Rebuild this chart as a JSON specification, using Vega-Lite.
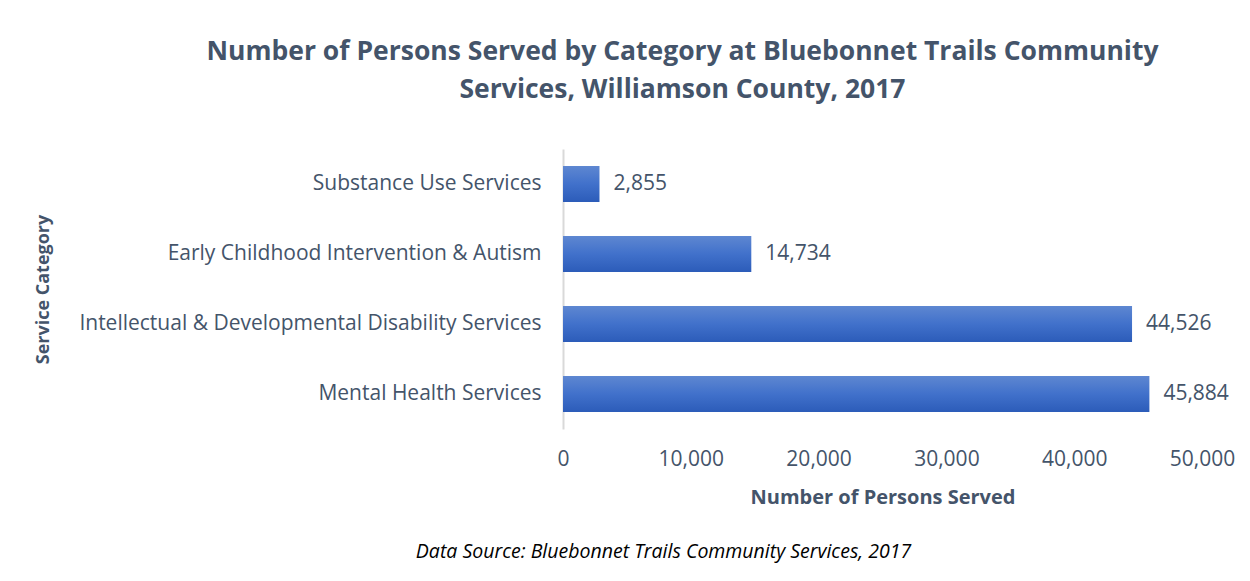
{
  "$schema": "https://vega.github.io/schema/vega-lite/v6.json",
  "autosize": {"type": "none"},
  "width": 639,
  "height": 280,
  "padding": {"left": 563, "top": 149, "right": 48, "bottom": 152},
  "background": "white",
  "config": {
    "font": "Open Sans",
    "view": {"stroke": null}
  },
  "title": {
    "text": ["Number of Persons Served by Category at Bluebonnet Trails Community", "Services, Williamson County, 2017"],
    "anchor": "middle",
    "frame": "group",
    "dx": -200,
    "offset": 46,
    "fontSize": 26.5,
    "lineHeight": 38,
    "fontWeight": "bold",
    "color": "#44546A",
    "font": "Open Sans"
  },
  "data": {
    "values": [
      {"category": "Substance Use Services", "persons": 2855},
      {"category": "Early Childhood Intervention & Autism", "persons": 14734},
      {"category": "Intellectual & Developmental Disability Services", "persons": 44526},
      {"category": "Mental Health Services", "persons": 45884}
    ]
  },
  "encoding": {
    "y": {
      "field": "category",
      "type": "nominal",
      "sort": null,
      "scale": {"paddingInner": 0.486, "paddingOuter": 0.243},
      "axis": {
        "title": "Service Category",
        "titleFontSize": 18,
        "titleFontWeight": "bold",
        "titleColor": "#44546A",
        "titleX": -520,
        "titleBaseline": "middle",
        "labelFontSize": 21,
        "labelColor": "#44546A",
        "labelPadding": 22,
        "labelLimit": 700,
        "ticks": false,
        "domain": true,
        "domainColor": "#D9D9D9",
        "domainWidth": 2,
        "grid": false
      }
    }
  },
  "layer": [
    {
      "mark": {
        "type": "bar",
        "color": {
          "gradient": "linear",
          "x1": 0, "y1": 0, "x2": 0, "y2": 1,
          "stops": [
            {"offset": 0, "color": "#5E87D1"},
            {"offset": 0.5, "color": "#4171CB"},
            {"offset": 1, "color": "#2C5CB9"}
          ]
        }
      },
      "encoding": {
        "x": {
          "field": "persons",
          "type": "quantitative",
          "scale": {"domain": [0, 50000], "nice": false},
          "axis": {
            "orient": "bottom",
            "title": "Number of Persons Served",
            "titleFontSize": 20,
            "titleFontWeight": "bold",
            "titleColor": "#44546A",
            "titleY": 68,
            "titleBaseline": "middle",
            "values": [0, 10000, 20000, 30000, 40000, 50000],
            "format": ",.0f",
            "labelFontSize": 21,
            "labelColor": "#44546A",
            "labelPadding": 19,
            "labelFlush": false,
            "ticks": false,
            "domain": false,
            "grid": false
          }
        }
      }
    },
    {
      "mark": {"type": "text", "align": "left", "baseline": "middle", "dx": 14, "fontSize": 21, "color": "#44546A"},
      "encoding": {
        "x": {
          "field": "persons",
          "type": "quantitative",
          "axis": {
            "orient": "bottom",
            "title": "Data Source: Bluebonnet Trails Community Services, 2017",
            "titleFontSize": 19.5,
            "titleFontWeight": "normal",
            "titleFontStyle": "italic",
            "titleColor": "#000000",
            "titleX": 100,
            "titleY": 122,
            "titleBaseline": "middle",
            "labels": false,
            "ticks": false,
            "domain": false,
            "grid": false
          }
        },
        "text": {"field": "persons", "type": "quantitative", "format": ","}
      }
    }
  ],
  "resolve": {"axis": {"x": "independent"}}
}
